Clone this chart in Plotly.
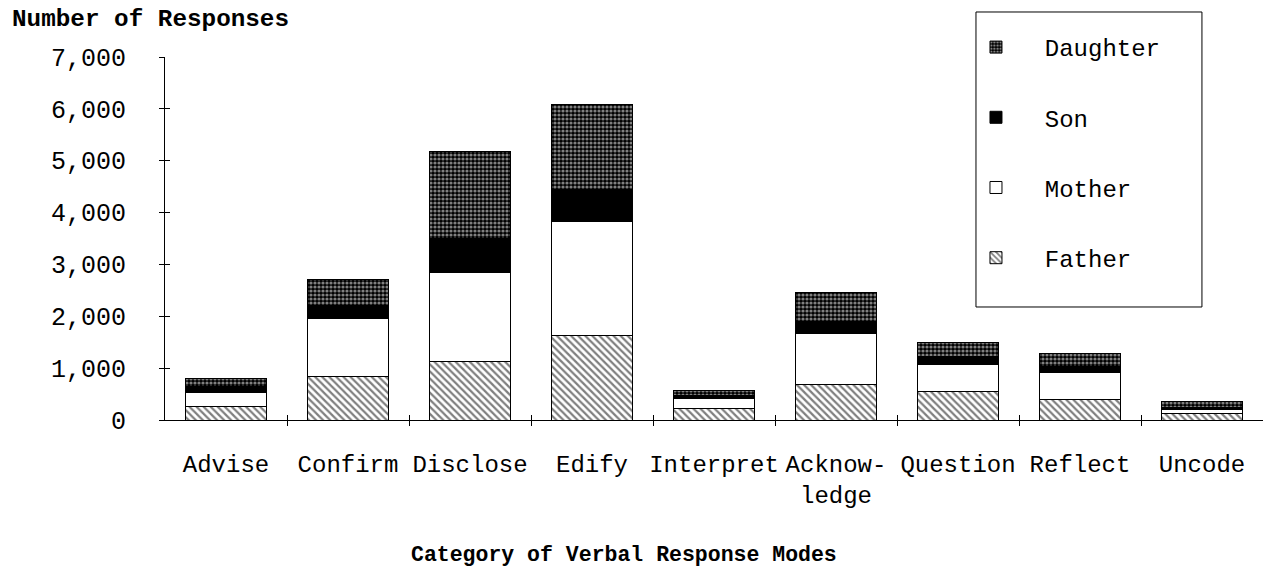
import plotly.graph_objects as go

categories = ["Advise", "Confirm", "Disclose", "Edify", "Interpret",
              "Acknowledge", "Question", "Reflect", "Uncode"]
tick_labels = ["Advise", "Confirm", "Disclose", "Edify", "Interpret",
               "Acknow-<br>ledge", "Question", "Reflect", "Uncode"]
father = [256, 848, 1137, 1625, 225, 688, 559, 405, 129]
mother = [278, 1112, 1709, 2209, 199, 982, 520, 507, 69]
son = [108, 256, 661, 617, 58, 224, 141, 116, 47]
daughter = [161, 501, 1676, 1638, 90, 559, 270, 257, 108]
y_ticks = [0, 1000, 2000, 3000, 4000, 5000, 6000, 7000]

FONT = "Liberation Mono, Courier New, monospace"
line = dict(color="black", width=1)
PAD = "\u00a0\u00a0"


def lname(s):
    return PAD + s + PAD


fig = go.Figure()
fig.add_trace(go.Bar(name=lname("Father"), x=categories, y=father, legendgroup="f",
                     legendrank=4,
                     marker=dict(color="white", line=line,
                                 pattern=dict(shape="\\", fgcolor="black", bgcolor="white",
                                              size=5, solidity=0.45))))
fig.add_trace(go.Bar(name=lname("Mother"), x=categories, y=mother, legendgroup="m",
                     legendrank=3,
                     marker=dict(color="white", line=line)))
fig.add_trace(go.Bar(name=lname("Son"), x=categories, y=son, legendgroup="s",
                     legendrank=2,
                     marker=dict(color="black", line=line)))
fig.add_trace(go.Bar(name=lname("Daughter"), x=categories, y=daughter, legendgroup="d",
                     legendrank=1,
                     marker=dict(color="black", line=line,
                                 pattern=dict(shape=".", fgcolor="white", bgcolor="black",
                                              size=4, solidity=0.5))))

n = len(categories)
# empty helper traces so the overlay tick axes get drawn
fig.add_trace(go.Scatter(x=[], y=[], xaxis="x2", yaxis="y", showlegend=False))
fig.add_trace(go.Scatter(x=[], y=[], xaxis="x3", yaxis="y", showlegend=False))
fig.add_trace(go.Scatter(x=[], y=[], xaxis="x", yaxis="y2", showlegend=False))

boundaries = [i + 0.5 for i in range(n - 1)]

fig.update_layout(
    width=1266, height=574,
    margin=dict(l=165, r=3, t=57, b=154),
    paper_bgcolor="white", plot_bgcolor="white",
    barmode="stack", bargap=0.34,
    font=dict(family=FONT, size=24, color="black"),
    xaxis=dict(type="category", categoryarray=categories, tickvals=categories,
               ticktext=tick_labels, tickangle=0, ticks="", showline=True,
               linecolor="black", linewidth=1, showgrid=False, zeroline=False,
               ticklabelstandoff=22, tickfont=dict(size=24, family=FONT)),
    xaxis2=dict(overlaying="x", anchor="y", range=[-0.5, n - 0.5], tickvals=boundaries,
                ticks="outside", ticklen=5, tickcolor="black", showticklabels=False,
                showline=False, showgrid=False, zeroline=False),
    xaxis3=dict(overlaying="x", anchor="y", range=[-0.5, n - 0.5], tickvals=boundaries,
                ticks="inside", ticklen=5, tickcolor="black", showticklabels=False,
                showline=False, showgrid=False, zeroline=False),
    yaxis=dict(range=[0, 7000], tickvals=y_ticks, tickformat=",", ticks="outside",
               ticklen=5, tickcolor="black", showline=True, linecolor="black",
               linewidth=1, showgrid=False, zeroline=False, ticklabelstandoff=28,
               tickfont=dict(size=25, family=FONT)),
    yaxis2=dict(overlaying="y", anchor="x", side="left", range=[0, 7000], tickvals=y_ticks,
                ticks="inside", ticklen=5, tickcolor="black", showticklabels=False,
                showline=False, showgrid=False, zeroline=False),
    legend=dict(x=0.7386, y=1.124, xanchor="left", yanchor="top",
                traceorder="grouped", tracegroupgap=36,
                title=dict(text="\u00a0", font=dict(size=10)),
                borderwidth=0, bgcolor="rgba(0,0,0,0)",
                font=dict(size=24, family=FONT)),
    showlegend=True,
    shapes=[
        # legend frame
        dict(type="rect", xref="paper", yref="paper", x0=0.7386, x1=0.9444,
             y0=0.3113, y1=1.124, line=dict(color="black", width=1),
             fillcolor="white", layer="above"),
    ],
    annotations=[
        dict(text="<b>Number of Responses</b>", xref="paper", yref="paper",
             x=-0.1412, y=1.102, xanchor="left", yanchor="middle", showarrow=False,
             font=dict(size=24.3, family=FONT)),
        dict(text="<b>Category of Verbal Response Modes</b>", xref="paper", yref="paper",
             x=0.418, y=-0.372, xanchor="center", yanchor="middle", showarrow=False,
             font=dict(size=21.5, family=FONT)),
    ],
)

fig.write_html("out.html", config={"displayModeBar": False},
               post_script="document.body.style.margin='0';document.body.style.overflow='hidden';")
